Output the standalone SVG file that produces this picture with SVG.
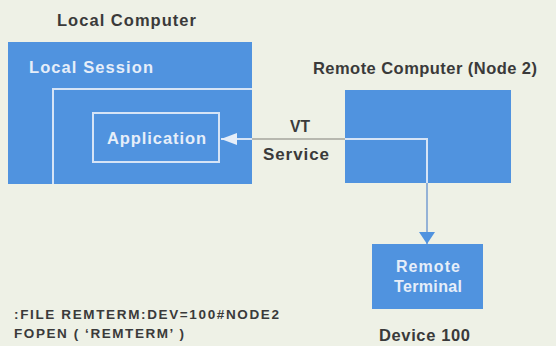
<svg xmlns="http://www.w3.org/2000/svg" width="556" height="346" viewBox="0 0 556 346">
<style>
.blue{fill:#5093df}
.lbl{font-family:"Liberation Sans",Arial,sans-serif;font-weight:bold;fill:#3a3a3a}
.wt{font-family:"Liberation Sans",Arial,sans-serif;font-weight:bold;fill:#e6eef9}
.wl{fill:none;stroke:#d6e4f6;stroke-width:2}
</style>
<defs>
<marker id="ah" markerWidth="16" markerHeight="12" refX="16" refY="6" orient="auto" markerUnits="userSpaceOnUse">
<path d="M0,0 L16,6 L0,12 Z" fill="#e6eef9"/>
</marker>
<marker id="ab" markerWidth="12" markerHeight="16" refX="12" refY="8" orient="auto" markerUnits="userSpaceOnUse">
<path d="M0,0 L12,8 L0,16 Z" fill="#5093df"/>
</marker>
</defs>
<rect width="556" height="346" fill="#eef1e6"/>
<g id="local">
<text class="lbl" x="57" y="26" font-size="16.5" textLength="139" lengthAdjust="spacing">Local Computer</text>
<rect class="blue" x="8" y="42" width="244" height="142"/>
<text class="wt" x="29" y="73" font-size="16.5" textLength="124" lengthAdjust="spacing">Local Session</text>
<path class="wl" d="M53,184 V89 H252"/>
</g>
<g id="application">
<rect x="93" y="113" width="126" height="49" fill="none" stroke="#d6e4f6" stroke-width="2"/>
<text class="wt" x="107" y="144" font-size="16.5" textLength="99" lengthAdjust="spacing">Application</text>
</g>
<g id="remote">
<text class="lbl" x="313" y="74" font-size="16.5" textLength="224" lengthAdjust="spacing">Remote Computer (Node 2)</text>
<rect class="blue" x="345" y="90" width="166" height="93"/>
</g>
<g id="terminal">
<rect class="blue" x="372" y="244" width="111" height="65"/>
<text class="wt" x="428" y="272" font-size="16" text-anchor="middle" textLength="64" lengthAdjust="spacing">Remote</text>
<text class="wt" x="428" y="292" font-size="16" text-anchor="middle" textLength="68" lengthAdjust="spacing">Terminal</text>
<text class="lbl" x="379" y="341" font-size="16.5" textLength="91" lengthAdjust="spacing">Device 100</text>
</g>
<g id="connectors">
<line x1="252" y1="139" x2="221" y2="139" stroke="#d6e4f6" stroke-width="2" marker-end="url(#ah)"/>
<line x1="252" y1="139" x2="345" y2="139" stroke="#a4a49c" stroke-width="1.5"/>
<path d="M345,139 H427 V183" fill="none" stroke="#d6e4f6" stroke-width="2"/>
<line x1="427" y1="183" x2="427" y2="244" stroke="#94b2d6" stroke-width="2" marker-end="url(#ab)"/>
<text class="lbl" x="290" y="132" font-size="17" textLength="20" lengthAdjust="spacingAndGlyphs">VT</text>
<text class="lbl" x="263" y="160" font-size="17" textLength="66" lengthAdjust="spacing">Service</text>
</g>
<g id="code">
<text class="lbl" x="14" y="319" font-size="13.5" textLength="265" lengthAdjust="spacing">:FILE REMTERM:DEV=100#NODE2</text>
<text class="lbl" x="14" y="338" font-size="13.5" textLength="170" lengthAdjust="spacing">FOPEN ( ‘REMTERM’ )</text>
</g>
</svg>
